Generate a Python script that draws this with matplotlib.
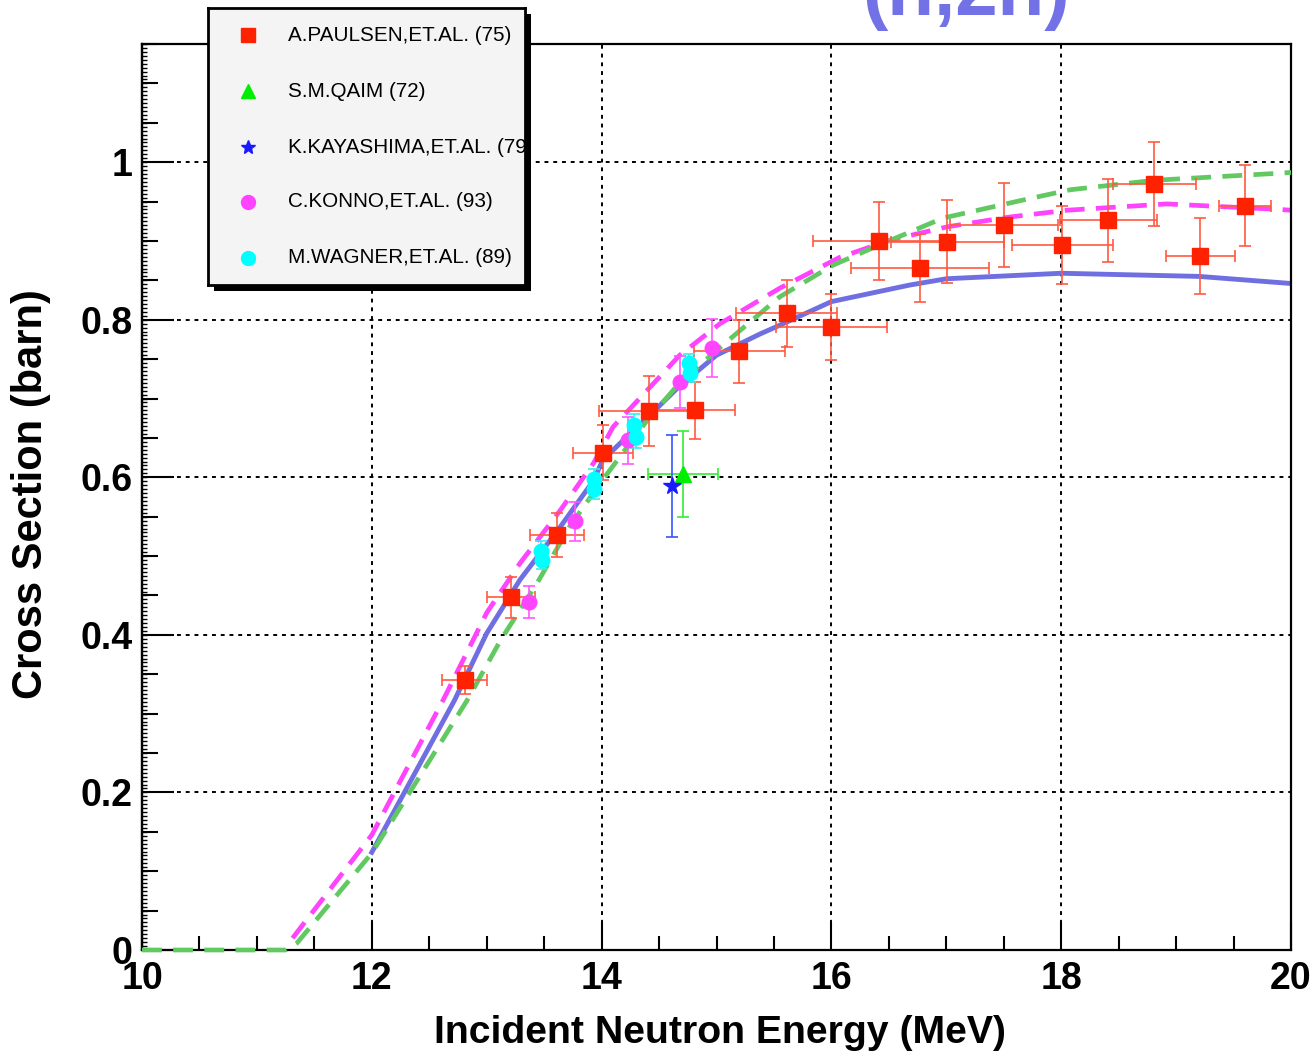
import matplotlib
matplotlib.use("Agg")
import matplotlib.pyplot as plt
from matplotlib.ticker import MultipleLocator, FuncFormatter
from matplotlib.patches import Rectangle

plt.rcParams['font.family'] = ['Liberation Sans', 'DejaVu Sans']

# measured points (energy MeV, cross section barn, errors)
paulsen_e = [12.81, 13.21, 13.61, 14.01, 14.41, 14.81, 15.20, 15.61, 16.00, 16.41,
             16.77, 17.01, 17.50, 18.01, 18.41, 18.81, 19.21, 19.60]
paulsen_xs = [0.343, 0.448, 0.527, 0.631, 0.684, 0.685, 0.760, 0.808, 0.791, 0.900,
              0.866, 0.899, 0.920, 0.895, 0.926, 0.972, 0.881, 0.945]
paulsen_de = [0.195, 0.21, 0.235, 0.26, 0.435, 0.35, 0.40, 0.44, 0.48, 0.57,
              0.60, 0.49, 0.47, 0.44, 0.42, 0.36, 0.30, 0.23]
paulsen_dxs = [0.018, 0.026, 0.028, 0.035, 0.044, 0.036, 0.040, 0.043, 0.042, 0.050,
               0.043, 0.053, 0.053, 0.050, 0.053, 0.053, 0.048, 0.052]

qaim_e = [14.71]
qaim_xs = [0.604]
qaim_de = [0.305]
qaim_dxs = [0.055]

kaya_e = [14.61]
kaya_xs = [0.589]
kaya_dxs = [0.065]

konno_e = [13.37, 13.77, 14.23, 14.68, 14.96]
konno_xs = [0.442, 0.544, 0.647, 0.721, 0.764]
konno_dxs = [0.020, 0.025, 0.030, 0.033, 0.037]

wagner_e = [13.47, 13.48, 13.93, 13.93, 14.28, 14.30, 14.76, 14.77]
wagner_xs = [0.507, 0.495, 0.598, 0.585, 0.666, 0.651, 0.745, 0.733]
wagner_dxs = [0.012, 0.012, 0.012, 0.012, 0.014, 0.014, 0.012, 0.012]

# evaluated curves
blue_e = [12.0, 12.72, 13.0, 13.29, 13.64, 13.93, 14.01, 14.16, 14.40, 14.68,
          15.0, 15.38, 15.55, 16.0, 16.68, 17.0, 18.0, 19.2, 20.0]
blue_xs = [0.124, 0.317, 0.402, 0.470, 0.537, 0.596, 0.622, 0.643, 0.676, 0.716,
           0.755, 0.782, 0.793, 0.823, 0.844, 0.852, 0.859, 0.855, 0.846]

green_e = [10.0, 11.25, 11.35, 12.0, 12.83, 13.12, 13.44, 13.72, 13.99, 14.40,
           14.68, 15.0, 15.55, 16.01, 16.42, 16.97, 17.70, 18.08, 18.81, 19.9, 20.0]
green_xs = [0.0, 0.0, 0.009, 0.123, 0.317, 0.393, 0.466, 0.537, 0.593, 0.673,
            0.720, 0.761, 0.829, 0.869, 0.895, 0.929, 0.953, 0.965, 0.977, 0.986, 0.987]

magenta_e = [11.31, 12.0, 12.62, 13.0, 13.29, 13.64, 13.93, 14.10, 14.40, 14.68,
             15.03, 15.55, 16.07, 16.51, 17.01, 17.53, 18.05, 18.92, 19.9, 20.0]
magenta_xs = [0.015, 0.146, 0.317, 0.428, 0.491, 0.558, 0.618, 0.664, 0.711, 0.755,
              0.795, 0.840, 0.879, 0.901, 0.918, 0.930, 0.939, 0.947, 0.940, 0.939]

legend_labels = ["A.PAULSEN,ET.AL. (75)", "S.M.QAIM (72)", "K.KAYASHIMA,ET.AL. (79)",
                 "C.KONNO,ET.AL. (93)", "M.WAGNER,ET.AL. (89)"]

W, H = 1313, 1056
fig = plt.figure(figsize=(W / 100, H / 100), dpi=100)
ax = fig.add_axes([142 / W, 1 - 950 / H, 1149 / W, 906 / H])

# curves
dash = (0, (4.2, 2.4))
ax.plot(green_e, green_xs, color='#62c962', lw=3.4, ls=dash, zorder=2.6, clip_on=False)
ax.plot(magenta_e, magenta_xs, color='#ff44ff', lw=3.4, ls=dash, zorder=2)
ax.plot(blue_e, blue_xs, color='#6f6fe2', lw=3.5, zorder=2.1)

# data points
eb = dict(ls='none', capsize=4, elinewidth=1.2, capthick=1.2, zorder=3)
ax.errorbar(paulsen_e, paulsen_xs, xerr=paulsen_de, yerr=paulsen_dxs, marker='s', ms=12,
            mfc='#ff2200', mec='#ff2200', ecolor='#ff5a40', **eb)
ax.errorbar(qaim_e, qaim_xs, xerr=qaim_de, yerr=qaim_dxs, marker='^', ms=12,
            mfc='#00ee00', mec='#00ee00', ecolor='#33ee33', **eb)
ax.errorbar(kaya_e, kaya_xs, yerr=kaya_dxs, marker='*', ms=13,
            mfc='#1a1aff', mec='#1a1aff', ecolor='#3355ff', **eb)
ax.errorbar(konno_e, konno_xs, yerr=konno_dxs, marker='o', ms=10.5,
            mfc='#ff44ff', mec='#ff44ff', ecolor='#ff55ff', **eb)
ax.errorbar(wagner_e, wagner_xs, yerr=wagner_dxs, marker='o', ms=10.5,
            mfc='#00ffff', mec='#00ffff', ecolor='#33eeee', **eb)

ax.set_xlim(10, 20)
ax.set_ylim(0, 1.15)
ax.xaxis.set_major_locator(MultipleLocator(2))
ax.xaxis.set_minor_locator(MultipleLocator(0.5))
ax.yaxis.set_major_locator(MultipleLocator(0.2))
ax.yaxis.set_minor_locator(MultipleLocator(0.05))
ax.yaxis.set_major_formatter(FuncFormatter(lambda v, p: f"{v:g}"))
ax.grid(True, which='major', color='k', ls=(0, (2, 2.5)), lw=1.4, zorder=1)
ax.set_axisbelow(True)

ax.tick_params(which='both', direction='in', top=False, right=False, width=1.5,
               labelsize=27)
ax.xaxis.set_tick_params(which='major', length=20, pad=8)
ax.xaxis.set_tick_params(which='minor', length=10)
ax.yaxis.set_tick_params(which='major', length=23, pad=7)
ax.yaxis.set_tick_params(which='minor', length=11.5)
for t in ax.get_xticklabels() + ax.get_yticklabels():
    t.set_fontweight('bold')
for s in ax.spines.values():
    s.set_linewidth(1.6)

# fine ticks along the left axis
sec = ax.secondary_yaxis('left')
sec.yaxis.set_major_locator(MultipleLocator(0.005))
sec.tick_params(direction='in', length=3.5, width=1, labelleft=False)
sec.spines['left'].set_linewidth(1.6)

fig.text(720 / W, 1 - 1033 / H, "Incident Neutron Energy (MeV)", fontsize=28.3,
         fontweight='bold', ha='center', va='center')
fig.text(31 / W, 1 - 494 / H, "Cross Section (barn)", fontsize=30, fontweight='bold',
         rotation=90, ha='center', va='center')

fig.text(966 / W, 1 - 15 / H, "(n,2n)", fontsize=55, fontweight='bold',
         color='#7272e6', ha='center', va='baseline')

# legend box with drop shadow
lx0, lx1, ly0, ly1 = 208, 525, 8, 285
fig.patches.append(Rectangle(((lx0 + 6) / W, 1 - (ly1 + 6) / H), (lx1 - lx0) / W,
                             (ly1 - ly0) / H, transform=fig.transFigure,
                             facecolor='black', edgecolor='none', zorder=1))
lax = fig.add_axes([lx0 / W, 1 - ly1 / H, (lx1 - lx0) / W, (ly1 - ly0) / H], zorder=2)
lax.set_facecolor('#f4f4f4')
lax.set_xlim(0, 1)
lax.set_ylim(0, 1)
lax.set_xticks([])
lax.set_yticks([])
for s in lax.spines.values():
    s.set_linewidth(2)

rows = [0.9025, 0.700, 0.498, 0.300, 0.0975]
styles = [('s', 10, '#ff2200'), ('^', 10, '#00ee00'), ('*', 10, '#1a1aff'),
          ('o', 10, '#ff44ff'), ('o', 10, '#00ffff')]
for yy, lab, (mk, ms, c) in zip(rows, legend_labels, styles):
    lax.plot([0.126], [yy], marker=mk, ms=ms, color=c, ls='none')
    lax.text(0.252, yy, lab, fontsize=14.9, ha='left', va='center', clip_on=True)

fig.savefig("out.png", dpi=100)
